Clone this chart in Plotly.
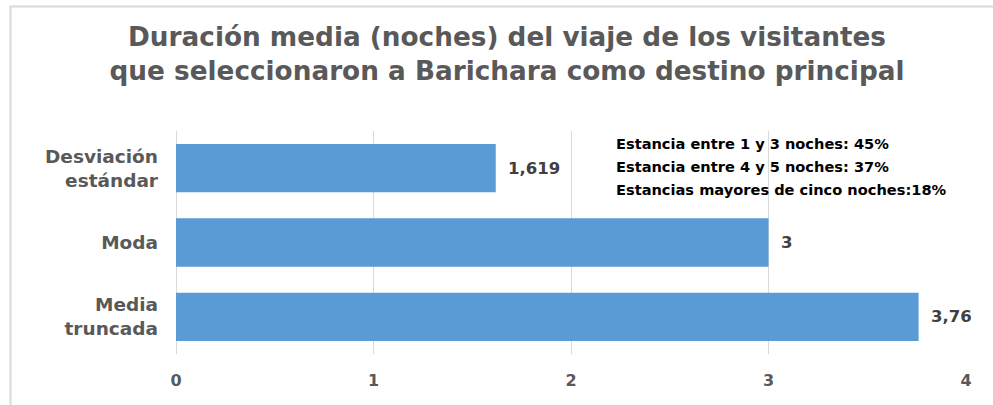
import plotly.graph_objects as go

categories = ["Media<br>truncada", "Moda", "Desviación<br>estándar"]
values = [3.76, 3, 1.619]
value_labels = ["3,76", "3", "1,619"]
tick_vals = [0, 1, 2, 3, 4]
tick_text = ["0", "1", "2", "3", "4"]
note_lines = [
    "Estancia entre 1 y 3 noches: 45%",
    "Estancia entre 4 y 5 noches: 37%",
    "Estancias mayores de cinco noches:18%",
]
title_text = "Duración media (noches) del viaje de los visitantes<br>que seleccionaron a Barichara como destino principal"

# page body margin is removed via post_script, so figure pixels == screen pixels
W, H = 993, 405
ml, mt = 176, 131
mr = W - 966
mb = H - 354
pw, ph = W - ml - mr, H - mt - mb


def px_x(p):
    return (p - ml) / pw


def px_y(p):
    return 1 - (p - mt) / ph


fig = go.Figure()
fig.add_trace(go.Bar(
    y=list(range(len(categories))), x=values, orientation="h",
    marker=dict(color="#5B9BD5", line=dict(width=0)),
    width=0.65,
    hoverinfo="x",
))

for i, (v, lab) in enumerate(zip(values, value_labels)):
    fig.add_annotation(
        x=v, y=i, xref="x", yref="y", text="<b>%s</b>" % lab,
        xanchor="left", yanchor="middle", xshift=10, showarrow=False,
        font=dict(family="DejaVu Sans", size=16.5, color="#404040"),
    )

fig.update_layout(
    width=W, height=H,
    margin=dict(l=ml, r=mr, t=mt, b=mb, autoexpand=False),
    paper_bgcolor="white", plot_bgcolor="white",
    showlegend=False,
    title=dict(
        text="<b>" + title_text + "</b>",
        x=507 / W, xanchor="center", xref="container",
        y=1 - 45.5 / H, yanchor="middle", yref="container",
        font=dict(family="DejaVu Sans", size=26.3, color="#595959"),
    ),
    xaxis=dict(
        range=[0, 4], tickvals=tick_vals, ticktext=["<b>%s</b>" % t for t in tick_text],
        showgrid=True, gridcolor="#D9D9D9", gridwidth=1,
        zeroline=True, zerolinecolor="#D9D9D9", zerolinewidth=1,
        tickfont=dict(family="DejaVu Sans", size=16, color="#595959"),
        ticks="", ticklabelstandoff=15, fixedrange=True, automargin=False,
    ),
    yaxis=dict(
        range=[-0.5, 2.5],
        tickfont=dict(family="DejaVu Sans", size=18.5, color="#595959"),
        ticks="", showgrid=False, ticklabelstandoff=17, zeroline=False,
        tickvals=list(range(len(categories))),
        ticktext=["<b>%s</b>" % c for c in categories],
        automargin=False, fixedrange=True,
    ),
    font=dict(family="DejaVu Sans"),
)

# note block
for j, line in enumerate(note_lines):
    fig.add_annotation(
        text="<b>%s</b>" % line,
        xref="paper", yref="paper",
        x=px_x(614), y=px_y(143 + 23 * j),
        xanchor="left", yanchor="middle", align="left", showarrow=False,
        font=dict(family="DejaVu Sans", size=14.6, color="#000000"),
    )

# outer border (left and top edges visible)
fig.add_shape(type="line", xref="paper", yref="paper",
              x0=px_x(10.5), x1=px_x(10.5), y0=px_y(430), y1=px_y(6.5),
              line=dict(color="#D9D9D9", width=2))
fig.add_shape(type="line", xref="paper", yref="paper",
              x0=px_x(9.5), x1=px_x(1010), y0=px_y(6.5), y1=px_y(6.5),
              line=dict(color="#D9D9D9", width=2))

fig.write_html("out.html", config={"displayModeBar": False},
               post_script="document.body.style.margin='0px';")
